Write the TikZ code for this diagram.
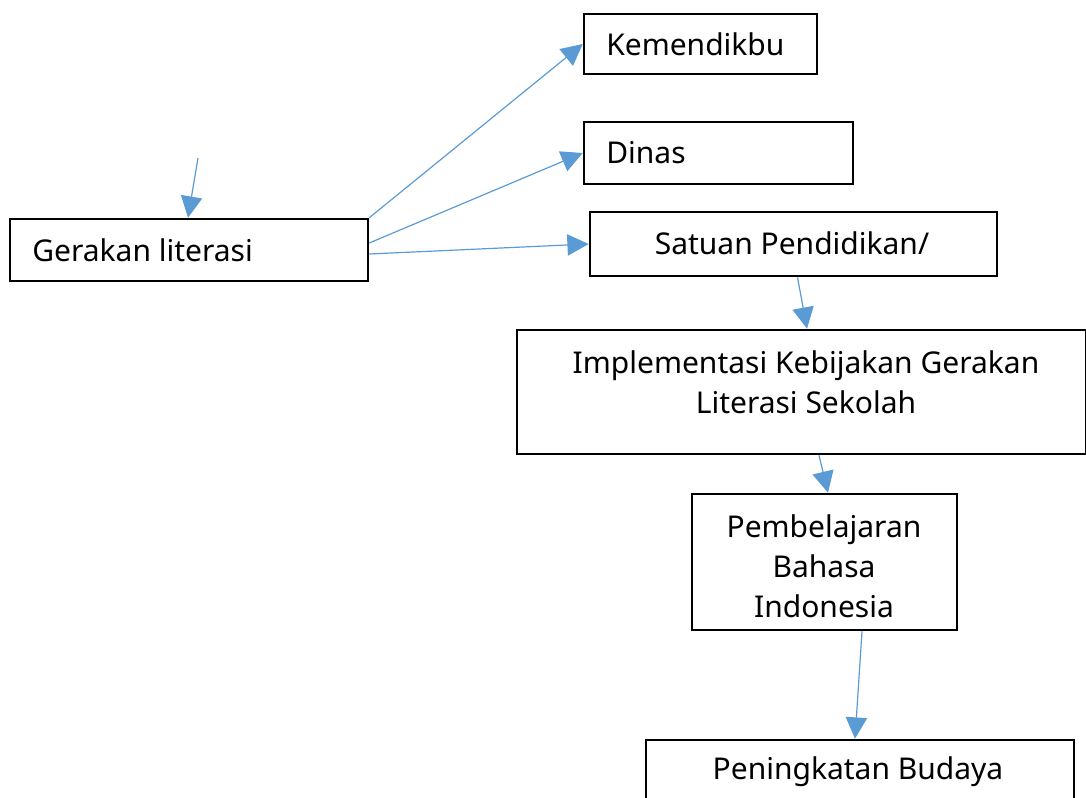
\documentclass[tikz,border=0pt]{standalone}
\usepackage{fontspec}
\setmainfont{Noto Sans}
\usetikzlibrary{arrows.meta,calc}
\definecolor{arrblue}{HTML}{5B9BD5}
\tikzset{
  box/.style={draw=black, line width=1.9pt, rectangle, inner sep=0pt},
  txt/.style={font=\fontsize{22.5}{30}\selectfont, inner sep=0pt, align=center},
  conn/.style={draw=arrblue, line width=0.9pt, -{Triangle[length=16pt,width=16pt]}, shorten >=0pt}
}
\begin{document}
\begin{tikzpicture}[x=0.75pt,y=-0.75pt]
\useasboundingbox (0,0) rectangle (1086,798);
\clip (0,0) rectangle (1086,798);
% boxes
\node[box, minimum width=358*0.75pt, minimum height=62*0.75pt] (g) at (189,250) {};
\node[box, minimum width=233*0.75pt, minimum height=60*0.75pt] (k) at (700.5,44) {};
\node[box, minimum width=269*0.75pt, minimum height=62*0.75pt] (d) at (718.5,153) {};
\node[box, minimum width=407*0.75pt, minimum height=64*0.75pt] (s) at (793.5,244) {};
\node[box, minimum width=569*0.75pt, minimum height=124*0.75pt] (i) at (801.5,392) {};
\node[box, minimum width=265*0.75pt, minimum height=136*0.75pt] (p) at (824.5,562) {};
\node[box, minimum width=428*0.75pt, minimum height=120*0.75pt] (b) at (860,800) {};
% texts
\node[txt, anchor=west] (gt) at (32,250) {Gerakan literasi};
\node[txt, anchor=west] (kt) at (606,44) {Kemendikbu};
\node[txt, anchor=west] (dt) at (606,153) {Dinas};
\node[txt] (st) at (792,243) {Satuan Pendidikan/};
\node[txt] (it) at (806,382) {Implementasi Kebijakan Gerakan\\Literasi Sekolah};
\node[txt] (pt) at (824,566) {Pembelajaran\\Bahasa\\Indonesia};
\node[txt] (bt) at (858,772) {Peningkatan Budaya};
% connectors
\coordinate (free) at (198,158);
\draw[conn] (free) -- ([xshift=-1*0.75pt]g.north);
\draw[conn] (g.north east) -- (k.west);
\draw[conn] ([yshift=7*0.75pt]g.east) -- (d.west);
\draw[conn] ([yshift=-4*0.75pt]g.east) -- (s.west);
\draw[conn] ([xshift=4*0.75pt]s.south) -- ([xshift=5.5*0.75pt]i.north);
\draw[conn] ([xshift=17.5*0.75pt]i.south) -- ([xshift=3.5*0.75pt]p.north);
\draw[conn] ([xshift=37.5*0.75pt]p.south) -- ([xshift=-5*0.75pt]b.north);
\end{tikzpicture}
\end{document}
